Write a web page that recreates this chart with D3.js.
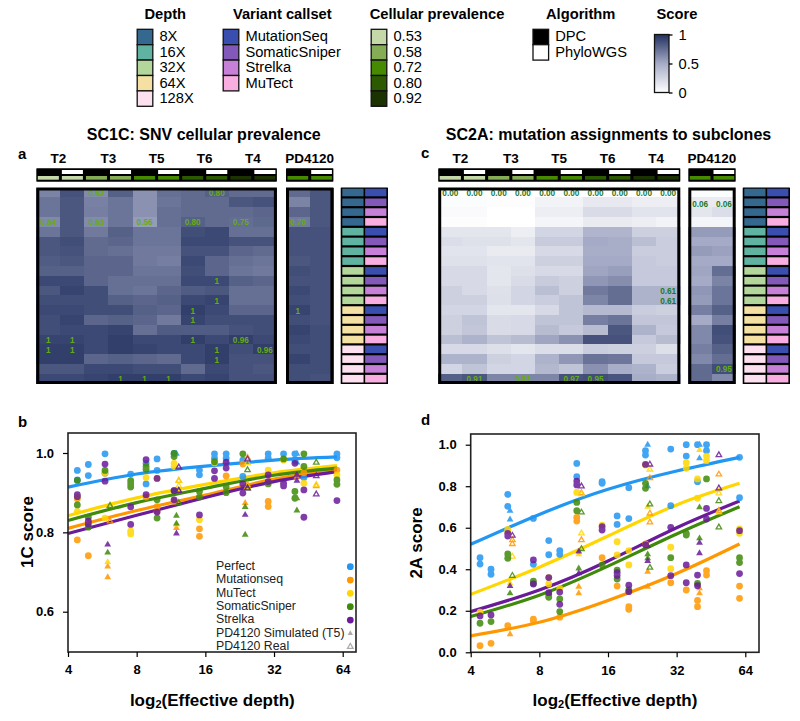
<!DOCTYPE html>
<html><head><meta charset="utf-8">
<script src="https://cdn.jsdelivr.net/npm/d3@7"></script>
<style>html,body{margin:0;padding:0;background:#fff}svg{display:block;font-family:"Liberation Sans",Arial,sans-serif}</style>
</head><body><svg id="c" width="800" height="721"></svg>
<script>
// ---------- legends
const depthLabels=["8X","16X","32X","64X","128X"];
const depthColors=["#34688f","#5fb3a0","#b3d69b","#f5e0a3","#fde0ef"];
const callsetLabels=["MutationSeq","SomaticSniper","Strelka","MuTect"];
const callsetColors=["#3a4eb0","#8258b8","#c680d8","#f8aee0"];
const prevLabels=["0.53","0.58","0.72","0.80","0.92"];
const prevColors=["#c5d9a8","#85ad55","#458a00","#2c5a00","#1a3300"];
const algoLabels=["DPC","PhyloWGS"];
const algoColors=["#000000","#ffffff"];
const tumours=["T2","T3","T5","T6","T4"];
// ---------- heatmaps (20 rows; columns alternate DPC / PhyloWGS)
const heatA=[
[.66,.86,.63,.80,.60,.74,.76,.80,.76,.76],
[.72,.84,.67,.72,.60,.72,.76,.76,.84,.86],
[.72,.84,.68,.72,.60,.74,.76,.76,.76,.78],
[.64,.84,.63,.72,.56,.74,.80,.76,.75,.77],
[.72,.84,.70,.80,.72,.72,.88,.90,.74,.74],
[.84,.88,.76,.78,.72,.72,.90,.90,.86,.86],
[.84,.86,.76,.74,.70,.70,.86,.86,.78,.76],
[.82,.84,.78,.78,.70,.68,.90,.78,.74,.72],
[.80,.80,.78,.78,.72,.72,.88,.78,.72,.70],
[.90,.90,.78,.74,.74,.74,.90,.90,.80,.78],
[.84,.92,.88,.74,.72,.78,.82,.84,.74,.74],
[.88,.88,.88,.80,.78,.80,.90,.92,.74,.74],
[.90,.90,.88,.88,.80,.78,.94,.90,.78,.78],
[.88,.92,.78,.80,.78,.70,.92,.88,.88,.88],
[.88,.90,.90,.92,.74,.82,.82,.82,.86,.88],
[.92,.92,.90,.94,.90,.90,.94,.90,.94,.90],
[.94,.94,.90,.94,.92,.90,.90,.94,.88,.94],
[.94,.94,.78,.80,.78,.76,.90,.94,.86,.86],
[.84,.84,.90,.90,.88,.88,.76,.90,.86,.84],
[.90,.90,.92,.94,.94,.94,.90,.92,.86,.86]];
const heatAPd=[
[.76,.84],[.66,.84],[.78,.84],[.70,.84],[.86,.86],[.86,.86],[.86,.86],[.84,.86],[.88,.86],[.86,.86],
[.90,.86],[.88,.86],[.92,.86],[.88,.86],[.92,.88],[.90,.88],[.88,.88],[.92,.88],[.88,.88],[.88,.86]];
const heatC=[
[0,0,0,0,0,0,0,0,0,0],
[.02,.02,.01,.01,.07,.07,.13,.13,.10,.10],
[.03,.03,0,0,.10,.10,.21,.21,.16,.16],
[.01,.01,0,0,.06,.06,.12,.12,.10,.07],
[.15,.15,.15,.10,.25,.25,.44,.44,.28,.28],
[.20,.18,.18,.15,.31,.31,.50,.48,.38,.30],
[.16,.16,.12,.12,.22,.22,.48,.48,.30,.30],
[.18,.18,.16,.16,.28,.28,.50,.50,.32,.30],
[.22,.22,.15,.19,.22,.22,.52,.55,.32,.32],
[.22,.22,.15,.21,.31,.28,.58,.62,.32,.32],
[.28,.22,.18,.25,.38,.28,.70,.75,.45,.45],
[.28,.28,.19,.25,.30,.35,.65,.75,.45,.45],
[.25,.25,.15,.15,.22,.35,.41,.41,.30,.28],
[.28,.35,.21,.22,.35,.35,.68,.72,.34,.34],
[.28,.34,.21,.22,.40,.32,.40,.84,.45,.32],
[.38,.45,.35,.40,.52,.60,.86,.86,.32,.40],
[.22,.22,.19,.15,.20,.20,.30,.28,.28,.19],
[.45,.45,.28,.25,.45,.58,.73,.71,.32,.32],
[.25,.35,.25,.25,.42,.35,.60,.48,.45,.30],
[.80,.84,.65,.65,.65,.86,.88,.85,.48,.45]];
const heatCPd=[
[.02,.02],[.12,.12],[.15,.20],[.06,.06],[.56,.56],[.50,.50],[.56,.54],[.50,.50],[.52,.75],[.50,.66],
[.58,.72],[.56,.72],[.68,.80],[.50,.68],[.64,.88],[.64,.86],[.68,.80],[.64,.75],[.76,.88],[.76,.64]];
// [row, column, printed best score]
const labelsA=[[0,2,"0.63"],[0,7,"0.80"],[3,0,"0.64"],[3,2,"0.63"],[3,4,"0.56"],[3,6,"0.80"],[3,8,"0.75"],
[9,7,"1"],[11,7,"1"],[12,6,"1"],[13,6,"1"],[15,0,"1"],[15,1,"1"],[15,6,"1"],[15,8,"0.96"],
[16,0,"1"],[16,1,"1"],[16,7,"1"],[16,9,"0.96"],[17,7,"1"],[19,3,"1"],[19,4,"1"],[19,5,"1"]];
const labelsAPd=[[3,0,"0.70"],[12,0,"1"]];
const labelsC=[[0,0,"0.00"],[0,1,"0.00"],[0,2,"0.00"],[0,3,"0.00"],[0,4,"0.00"],[0,5,"0.00"],[0,6,"0.00"],[0,7,"0.00"],[0,8,"0.00"],[0,9,"0.00"],
[10,9,"0.61"],[11,9,"0.61"],[19,1,"0.91"],[19,3,"0.83"],[19,5,"0.97"],[19,6,"0.95"]];
const labelsCPd=[[1,0,"0.06"],[1,1,"0.06"],[18,1,"0.95"]];
// ---------- scatter: [log2 depth, score, kind]  kind: none=circle, "s"=PD4120 simulated, "r"=PD4120 real
const b_perfect=[[2.136,.956],[2.136,.932],[2.296,.971],[2.296,.943],[2.539,.998],[2.539,.949],[2.913,.947],[3.137,.974],[3.137,.922],[3.297,.985],[3.297,.956],[3.545,.999],[3.914,.957],[3.914,.945],[4.133,.998],[4.133,.987],[4.303,.998],[4.303,.987],[4.546,.982],[4.546,.941],[4.915,.998],[4.915,.987],[5.139,.998],[5.304,.998],[5.304,.982],[5.435,.938],[5.916,.998],[5.916,.988],[3.579,.998,"s"],[5.333,.976,"s"],[5.333,.998,"s"]];
const b_mseq=[[2.136,.885],[2.136,.781],[2.296,.741],[3.137,.889],[3.297,.865],[3.297,.853],[3.545,.878],[3.914,.809],[3.914,.79],[4.303,.942],[4.546,.972],[4.915,.878],[4.915,.865],[5.435,.95],[5.916,.957],[2.578,.714,"s"],[2.578,.687,"s"],[3.579,.811,"s"],[4.58,.874,"s"],[5.333,.94,"s"],[2.612,.828,"r"],[3.613,.93,"r"],[4.614,.988,"r"],[4.614,.92,"r"],[5.615,.917,"r"]];
const b_mutect=[[2.136,.889],[2.136,.853],[2.539,.949],[2.539,.836],[2.913,.803],[2.913,.796],[3.137,.938],[3.297,.936],[3.545,.974],[3.545,.966],[3.914,.832],[4.133,.975],[4.915,.957],[5.139,.982],[5.435,.924],[5.916,.945],[2.578,.725,"s"],[3.579,.82,"s"],[2.612,.867,"r"],[3.613,.93,"r"],[3.613,.917,"r"],[4.614,.975,"r"],[4.614,.915,"r"],[5.615,.92,"r"]];
const b_sniper=[[2.136,.931],[2.136,.869],[2.296,.838],[2.296,.813],[2.539,.956],[2.913,.93],[2.913,.922],[2.913,.914],[3.137,.966],[3.137,.959],[3.297,.882],[3.297,.836],[3.545,.999],[3.545,.991],[3.545,.905],[3.914,.903],[3.914,.889],[4.133,.978],[4.303,.915],[4.303,.9],[4.546,.998],[4.915,.922],[5.139,.985],[5.304,.903],[5.304,.886],[5.435,.998],[5.435,.966],[5.916,.932],[5.916,.921],[2.578,.749,"s"],[3.579,.842,"s"],[3.579,.822,"s"],[4.58,.864,"s"],[4.58,.794,"s"],[5.333,.886,"s"],[5.333,.855,"s"],[2.612,.867,"r"],[3.613,.905,"r"],[3.613,.874,"r"],[4.614,.957,"r"],[4.614,.911,"r"],[5.615,.976,"r"]];
const b_strelka=[[2.136,.895],[2.136,.89],[2.296,.828],[2.296,.821],[2.539,.972],[2.539,.929],[2.913,.864],[2.913,.82],[3.137,.983],[3.137,.895],[3.297,.936],[3.297,.851],[3.545,.905],[3.545,.882],[3.914,.844],[4.133,.955],[4.133,.936],[4.303,.977],[4.303,.962],[4.546,.922],[4.546,.899],[4.915,.945],[4.915,.928],[5.139,.924],[5.139,.917],[5.304,.974],[5.435,.907],[5.435,.838],[5.916,.88],[2.578,.769,"s"],[3.579,.797,"s"],[4.58,.844,"s"],[5.333,.945,"s"],[5.333,.93,"s"],[3.613,.964,"r"],[3.613,.905,"r"],[4.614,.984,"r"],[4.614,.911,"r"],[5.615,.942,"r"],[5.615,.896,"r"]];
const d_perfect=[[2.136,.456],[2.136,.425],[2.296,.40],[2.296,.376],[2.54,.761],[2.54,.703],[2.913,.645],[2.913,.424],[3.137,.538],[3.137,.47],[3.297,.49],[3.297,.472],[3.545,.91],[3.545,.846],[3.914,.822],[3.914,.814],[4.133,.657],[4.133,.616],[4.303,.793],[4.303,.644],[4.546,.971],[4.546,.95],[4.914,.979],[4.914,.706],[5.14,1],[5.14,.945],[5.304,1],[5.304,.822],[5.435,1],[5.435,.971],[5.916,.939],[5.916,.745],[2.573,.682,"s"],[2.573,.64,"s"],[4.578,1,"s"],[4.578,.80,"s"],[5.333,1,"s"],[5.333,.934,"s"]];
const d_mseq=[[2.136,.032],[2.296,.043],[2.54,.128],[2.913,.16],[2.913,.152],[3.297,.169],[3.545,.65],[3.545,.632],[3.914,.456],[4.133,.319],[4.303,.22],[4.303,.207],[4.546,.522],[4.914,.335],[5.14,.30],[5.304,.25],[5.304,.22],[5.435,.393],[5.435,.372],[5.916,.319],[5.916,.26],[2.573,.087,"s"],[3.574,.316,"s"],[3.574,.284,"s"],[4.578,.388,"s"],[4.578,.316,"s"],[5.333,.308,"s"],[5.333,.284,"s"],[2.607,.541,"r"],[2.607,.522,"r"],[3.613,.767,"r"],[3.613,.541,"r"],[4.61,.839,"r"],[4.61,.669,"r"],[4.61,.626,"r"],[5.615,.857,"r"],[5.615,.682,"r"]];
const d_mutect=[[2.136,.193],[2.54,.592],[2.54,.585],[3.137,.36],[3.137,.329],[3.297,.308],[3.545,.77],[3.914,.613],[4.133,.533],[4.133,.469],[4.303,.49],[4.303,.421],[4.546,.902],[4.914,.506],[4.914,.403],[5.14,.913],[5.14,.886],[5.304,.835],[5.304,.742],[5.435,.945],[5.435,.923],[5.916,.594],[5.916,.573],[2.573,.332,"s"],[3.574,.472,"s"],[4.578,.701,"s"],[5.333,.974,"s"],[2.607,.461,"r"],[3.613,.762,"r"],[3.613,.573,"r"],[4.61,.881,"r"],[5.615,.766,"r"],[5.615,.675,"r"]];
const d_sniper=[[2.136,.14],[2.296,.148],[2.54,.474],[2.54,.453],[2.913,.343],[2.913,.332],[3.137,.276],[3.137,.265],[3.297,.257],[3.297,.196],[3.545,.722],[3.545,.682],[3.914,.421],[4.133,.396],[4.133,.353],[4.303,.30],[4.546,.814],[4.546,.79],[4.914,.456],[5.14,.573],[5.14,.565],[5.304,.332],[5.435,.835],[5.916,.456],[5.916,.432],[2.573,.284,"s"],[3.574,.404,"s"],[4.578,.472,"s"],[4.578,.453,"s"],[5.333,.698,"s"],[5.333,.549,"s"],[2.607,.369,"r"],[3.613,.674,"r"],[3.613,.498,"r"],[4.61,.713,"r"],[4.61,.408,"r"],[5.615,.729,"r"],[5.615,.602,"r"]];
const d_strelka=[[2.136,.175],[2.296,.18],[2.54,.573],[2.54,.56],[2.913,.445],[2.913,.329],[3.137,.36],[3.137,.287],[3.297,.29],[3.297,.231],[3.545,.825],[3.545,.806],[3.914,.605],[3.914,.589],[4.133,.384],[4.133,.37],[4.303,.323],[4.303,.292],[4.546,.905],[4.546,.517],[4.914,.602],[4.914,.369],[5.14,.421],[5.14,.335],[5.304,.372],[5.304,.321],[5.435,.693],[5.435,.642],[5.916,.586],[5.916,.379],[2.573,.319,"s"],[3.574,.485,"s"],[3.574,.38,"s"],[4.578,.512,"s"],[4.578,.44,"s"],[5.333,.528,"s"],[5.333,.477,"s"],[2.607,.562,"r"],[3.613,.80,"r"],[4.61,.905,"r"],[5.615,.95,"r"],[5.615,.79,"r"]];
// fitted curves read at a few depths
const fitDepths=[2,3,4,5,5.916];
const bFit_perfect=[.914,.947,.967,.982,.990];
const bFit_mutect=[.842,.887,.921,.950,.968];
const bFit_sniper=[.830,.875,.911,.944,.962];
const bFit_mseq=[.810,.855,.894,.934,.957];
const bFit_strelka=[.797,.843,.888,.928,.953];
const dFit_perfect=[.52,.664,.785,.873,.939];
const dFit_mutect=[.279,.41,.56,.71,.814];
const dFit_strelka=[.196,.30,.44,.60,.729];
const dFit_sniper=[.172,.275,.415,.57,.701];
const dFit_mseq=[.079,.145,.25,.38,.522];
const seriesNames=["Perfect","Mutationseq","MuTect","SomaticSniper","Strelka"];
const seriesColors=["#2196f3","#ff9800","#ffd600","#3f8a0a","#6a1b9a"];

const svg=d3.select("#c");
const heatColor=d3.scaleLinear().domain([0,.5,1]).range(["#ffffff","#a5abc6","#22305f"]);
const txt=(x,y,s,size,opts={})=>svg.append("text").attr("x",x).attr("y",y).text(s)
  .attr("font-size",size).attr("font-weight",opts.bold?"bold":"normal")
  .attr("text-anchor",opts.anchor||"start").attr("dominant-baseline","middle").attr("fill",opts.fill||"#000");

// ---------- top legends
function swatchLegend(title,tx,bx,labels,colors){
  txt(tx,15.5,title,14.7,{bold:true,anchor:"middle"});
  const y=d3.scaleBand().domain(labels.map((d,i)=>i)).range([29.3,29.3+labels.length*15.4]);
  const g=svg.append("g");
  g.selectAll("rect").data(labels).join("rect").attr("x",bx).attr("y",(d,i)=>y(i)).attr("width",15.6).attr("height",y.bandwidth())
    .attr("fill",(d,i)=>colors[i]).attr("stroke","#111").attr("stroke-width",1.3);
  labels.forEach((l,i)=>txt(bx+22.2,y(i)+y.bandwidth()/2+.5,l,14.7));
}
swatchLegend("Depth",165.3,137.2,depthLabels,depthColors);
swatchLegend("Variant callset",282.3,223.2,callsetLabels,callsetColors);
swatchLegend("Cellular prevalence",437,371.2,prevLabels,prevColors);
swatchLegend("Algorithm",580.7,533,algoLabels,algoColors);
// score colourbar
txt(677,15.5,"Score",14.7,{bold:true,anchor:"middle"});
const grad=svg.append("defs").append("linearGradient").attr("id","sg").attr("x1",0).attr("x2",0).attr("y1",1).attr("y2",0);
d3.range(0,1.01,.1).forEach(t=>grad.append("stop").attr("offset",t).attr("stop-color",heatColor(t)));
svg.append("rect").attr("x",654.5).attr("y",34.5).attr("width",14.5).attr("height",58).attr("fill","url(#sg)").attr("stroke","#111").attr("stroke-width",1.3);
const sY=d3.scaleLinear().domain([0,1]).range([92.5,34.5]);
const sAxis=svg.append("g").attr("transform","translate(669,0)").call(d3.axisRight(sY).tickValues([0,.5,1]).tickSize(3.5).tickPadding(6).tickFormat(d3.format("~g")));
sAxis.select(".domain").remove();
sAxis.selectAll("text").attr("font-size",14.7).attr("font-family","inherit").attr("fill","#000");
sAxis.selectAll("line").attr("stroke-width",1.3);

// ---------- heatmaps
const rowTop=187.5,rowBottom=383.5;
const rowScale=d3.scaleBand().domain(d3.range(20)).range([rowTop,rowBottom]);
function columnHeader(x0,x1,nCols,prevIdx,labels){
  const x=d3.scaleBand().domain(d3.range(nCols)).range([x0,x1]);
  svg.append("rect").attr("x",x0).attr("y",168.3).attr("width",x1-x0).attr("height",13.4).attr("fill","#000").attr("rx",.6);
  d3.range(nCols).forEach(c=>{
    const g=Math.floor(c/2);
    svg.append("rect").attr("x",x(c)+1.5).attr("y",170).attr("width",x.bandwidth()-3).attr("height",4)
      .attr("fill",algoColors[c%2]);
    svg.append("rect").attr("x",x(c)+1.5).attr("y",176).attr("width",x.bandwidth()-3).attr("height",3.7)
      .attr("fill",prevColors[prevIdx[g]]);
  });
  labels.forEach((l,i)=>txt((x(i*2)+x(i*2+1)+x.bandwidth())/2-(l==="T2"?2:0),159.5,l,13.5,{bold:true,anchor:"middle"}));
}
function heat(x0,x1,matrix,labels){
  const n=matrix[0].length;
  const x=d3.scaleBand().domain(d3.range(n)).range([x0,x1]);
  const g=svg.append("g").attr("shape-rendering","crispEdges");
  matrix.forEach((row,r)=>g.selectAll(null).data(row).join("rect")
    .attr("x",(d,c)=>x(c)).attr("y",rowScale(r)).attr("width",x.bandwidth()+.3).attr("height",rowScale.bandwidth()+.3)
    .attr("fill",d=>heatColor(d)));
  svg.append("g").selectAll("text").data(labels).join("text")
    .attr("x",d=>x(d[1])+x.bandwidth()/2).attr("y",d=>rowScale(d[0])+rowScale.bandwidth()/2+1.5+(d[2]==="0.06"?1.5:0))
    .attr("text-anchor","middle").attr("dominant-baseline","middle").attr("font-size",8.2).attr("font-weight","bold")
    .attr("fill",d=>matrix[d[0]][d[1]]>.5?"#64ac14":"#1b7a28").text(d=>d[2]);
  svg.append("rect").attr("x",x0+1.5).attr("y",rowTop+1.5).attr("width",x1-x0-3).attr("height",rowBottom-rowTop-3+.5)
    .attr("fill","none").attr("stroke","#000").attr("stroke-width",3);
}
function rowAnnotation(x0,x1){
  const x=d3.scaleBand().domain([0,1]).range([x0,x1]);
  svg.append("rect").attr("x",x0).attr("y",rowTop).attr("width",x1-x0).attr("height",rowBottom-rowTop+.5).attr("fill","#000").attr("rx",.6);
  d3.range(20).forEach(r=>{
    svg.append("rect").attr("x",x(0)+1.6).attr("y",rowScale(r)+1.2).attr("width",x.bandwidth()-2.4).attr("height",rowScale.bandwidth()-2.2)
      .attr("fill",depthColors[Math.floor(r/4)]);
    svg.append("rect").attr("x",x(1)+.8).attr("y",rowScale(r)+1.2).attr("width",x.bandwidth()-2.4).attr("height",rowScale.bandwidth()-2.2)
      .attr("fill",callsetColors[r%4]);
  });
}
const tumourPrev=[0,1,2,3,4];
txt(203.8,135.5,"SC1C: SNV cellular prevalence",16,{bold:true,anchor:"middle"});
txt(608.5,135.5,"SC2A: mutation assignments to subclones",16,{bold:true,anchor:"middle"});
txt(18,155,"a",15,{bold:true});
txt(421,154,"c",15,{bold:true});
columnHeader(36.3,276.9,10,tumourPrev,tumours);
columnHeader(286,333.4,2,[2],["PD4120"]);
columnHeader(438.2,680.3,10,tumourPrev,tumours);
columnHeader(688.3,735.7,2,[2],["PD4120"]);
heat(36.3,276.9,heatA,labelsA);
heat(286,333.4,heatAPd,labelsAPd);
heat(438.2,680.3,heatC,labelsC);
heat(688.3,735.7,heatCPd,labelsCPd);
rowAnnotation(340.7,388);
rowAnnotation(742.7,790);

// ---------- scatter panels
function scatter(p){
  const x=d3.scaleLinear().domain([2,6]).range([p.left,p.x6]);
  const y=d3.scaleLinear().domain(p.yDom).range(p.yRange);
  const line=d3.line().x((d,i)=>x(fitDepths[i])).y(d=>y(d)).curve(d3.curveNatural);
  p.fits.forEach((f,i)=>svg.append("path").attr("d",line(f)).attr("fill","none").attr("stroke",seriesColors[i]).attr("stroke-width",3.2));
  const tri=d3.symbol().type(d3.symbolTriangle).size(20)();
  const triOpen=d3.symbol().type(d3.symbolTriangle).size(13)();
  p.points.forEach((pts,i)=>{
    const g=svg.append("g").attr("opacity",.85);
    g.selectAll("circle").data(pts.filter(d=>!d[2])).join("circle").attr("cx",d=>x(d[0])).attr("cy",d=>y(d[1])).attr("r",3.4).attr("fill",seriesColors[i]);
    g.selectAll("path.s").data(pts.filter(d=>d[2]==="s")).join("path").attr("class","s").attr("d",tri)
      .attr("transform",d=>`translate(${x(d[0])},${y(d[1])})`).attr("fill",seriesColors[i]);
    g.selectAll("path.r").data(pts.filter(d=>d[2]==="r")).join("path").attr("class","r").attr("d",triOpen)
      .attr("transform",d=>`translate(${x(d[0])},${y(d[1])})`).attr("fill","none").attr("stroke",seriesColors[i]).attr("stroke-width",1.3);
  });
  svg.append("rect").attr("x",p.left).attr("y",p.top).attr("width",p.right-p.left).attr("height",p.bottom-p.top).attr("fill","none").attr("stroke","#222").attr("stroke-width",1.6);
  const xa=svg.append("g").attr("transform",`translate(0,${p.bottom})`).call(d3.axisBottom(x).tickValues([2,3,4,5,6]).tickSize(5).tickPadding(8).tickFormat(v=>Math.pow(2,v)));
  const ya=svg.append("g").attr("transform",`translate(${p.left},0)`).call(d3.axisLeft(y).tickValues(p.yTicks).tickSize(5).tickPadding(9).tickFormat(d3.format(".1f")));
  [xa,ya].forEach(a=>{a.select(".domain").remove();a.selectAll("line").attr("stroke","#000").attr("stroke-width",1.2);
    a.selectAll("text").attr("font-size",13).attr("font-weight","bold").attr("font-family","inherit").attr("fill","#000");});
  const xl=svg.append("text").attr("x",p.left+144.3).attr("y",701.5).attr("text-anchor","middle").attr("dominant-baseline","middle").attr("font-size",17).attr("font-weight","bold");
  xl.append("tspan").text("log");
  xl.append("tspan").text("2").attr("font-size",11).attr("dy",3);
  xl.append("tspan").text("(Effective depth)").attr("dy",-3);
  svg.append("text").attr("transform",`translate(${p.yLabelX},${p.yLabelY}) rotate(-90)`).attr("text-anchor","middle").attr("dominant-baseline","middle").attr("font-size",17).attr("font-weight","bold").text(p.yLabel);
}
scatter({left:68,x6:342.7,right:356,top:433,bottom:652,yDom:[.6,1],yRange:[611.7,453],yTicks:[.6,.8,1],yLabel:"1C score",yLabelX:29,yLabelY:532,
  fits:[bFit_perfect,bFit_mseq,bFit_mutect,bFit_sniper,bFit_strelka],points:[b_perfect,b_mseq,b_mutect,b_sniper,b_strelka]});
scatter({left:470.7,x6:745.3,right:759,top:434,bottom:652.3,yDom:[0,1],yRange:[652.3,444.7],yTicks:[0,.2,.4,.6,.8,1],yLabel:"2A score",yLabelX:418,yLabelY:543,
  fits:[dFit_perfect,dFit_mseq,dFit_mutect,dFit_sniper,dFit_strelka],points:[d_perfect,d_mseq,d_mutect,d_sniper,d_strelka]});
txt(18,423,"b",15,{bold:true});
txt(421,421,"d",15,{bold:true});
// scatter legend
const legendNames=[...seriesNames,"PD4120 Simulated (T5)","PD4120 Real"];
const ly=d3.scaleLinear().domain([0,6]).range([566.7,646.7]);
legendNames.forEach((n,i)=>{
  txt(216,ly(i),n,12.3,{fill:"#222"});
  if(i<5) svg.append("circle").attr("cx",350.3).attr("cy",ly(i)).attr("r",3.4).attr("fill",seriesColors[i]);
});
svg.append("path").attr("d",d3.symbol().type(d3.symbolTriangle).size(12)()).attr("transform",`translate(350.3,${ly(5)})`).attr("fill","#aaa");
svg.append("path").attr("d",d3.symbol().type(d3.symbolTriangle).size(14)()).attr("transform",`translate(350.3,${ly(6)})`).attr("fill","none").attr("stroke","#aaa").attr("stroke-width",1.2);
</script>
</body></html>
